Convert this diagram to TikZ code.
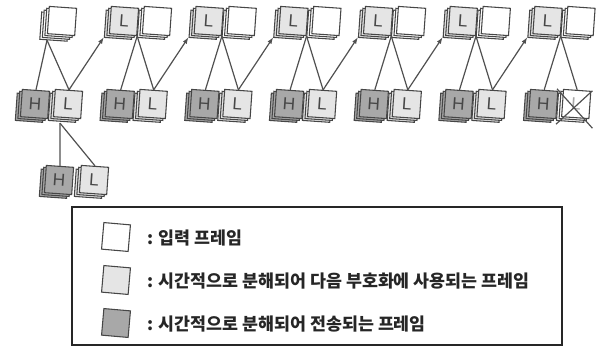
\documentclass[tikz,border=0pt]{standalone}
\usepackage{fontspec}
\setsansfont{Liberation Sans}
\newfontfamily\krfont{Noto Sans CJK KR}
\usetikzlibrary{shadows}
\usetikzlibrary{positioning}
\usetikzlibrary{calc}
\usetikzlibrary{arrows.meta}
\usepackage{xcolor}
\definecolor{frameline}{RGB}{70,70,70}
\definecolor{lowfill}{RGB}{229,229,229}
\definecolor{highfill}{RGB}{168,168,168}
\definecolor{wireline}{RGB}{80,80,80}

\tikzset{
  framebox/.style={draw=frameline, line width=0.8pt, minimum size=20.5pt, inner sep=0pt, rotate=-4,
    font=\sffamily\fontsize{13}{13}\selectfont, text=black!72},
  shadowed/.style={double copy shadow={shadow xshift=-1.9pt, shadow yshift=-1.4pt, draw=frameline, line width=0.8pt, fill=#1}},
  inframe/.style={framebox, fill=white, shadowed=white},
  lowframe/.style={framebox, fill=lowfill, shadowed=lowfill},
  highframe/.style={framebox, fill=highfill, shadowed=highfill},
  wire/.style={draw=wireline, line width=0.9pt},
  fwd/.style={wire, -{Latex[length=5pt,width=3.5pt]}},
  legsq/.style={draw=frameline, line width=0.8pt, minimum size=20pt, inner sep=0pt, rotate=-5},
  legtext/.style={anchor=west, inner sep=1pt, font=\krfont\bfseries\fontsize{13}{15}\selectfont, text=black!85},
}

\begin{document}
\begin{tikzpicture}[x=0.75pt,y=0.75pt,yscale=-1,xscale=1]
\useasboundingbox (0,0) rectangle (599,347);

% top row: input frames and low frames carried on
\node[copy shadow={shadow xshift=-5.7pt, shadow yshift=-4.2pt, draw=frameline, line width=0.8pt, fill=white}, inframe] (S0) at (62,21) {};
\node[lowframe] (TL1) at (124,21) {L};
\node[inframe] (TW1) at (157,21) {};
\node[lowframe] (TL2) at (208.7,21) {L};
\node[inframe] (TW2) at (241.7,21) {};
\node[lowframe] (TL3) at (293.4,21) {L};
\node[inframe] (TW3) at (326.4,21) {};
\node[lowframe] (TL4) at (378.1,21) {L};
\node[inframe] (TW4) at (411.1,21) {};
\node[lowframe] (TL5) at (462.8,21) {L};
\node[inframe] (TW5) at (495.8,21) {};
\node[lowframe] (TL6) at (547.5,21) {L};
\node[inframe] (TW6) at (580.5,21) {};

% second row: decomposed H and L frames
\node[highframe] (H0) at (35,104) {H};
\node[lowframe] (BL0) at (68,104) {L};
\node[highframe] (H1) at (119.7,104) {H};
\node[lowframe] (BL1) at (152.7,104) {L};
\node[highframe] (H2) at (204.4,104) {H};
\node[lowframe] (BL2) at (237.4,104) {L};
\node[highframe] (H3) at (289.1,104) {H};
\node[lowframe] (BL3) at (322.1,104) {L};
\node[highframe] (H4) at (373.8,104) {H};
\node[lowframe] (BL4) at (406.8,104) {L};
\node[highframe] (H5) at (458.5,104) {H};
\node[lowframe] (BL5) at (491.5,104) {L};
\node[highframe] (H6) at (543.2,104) {H};
\node[framebox, fill=white, shadowed=white, text=black!35] (BL6) at (576.2,104) {L};

% third row
\node[highframe] (HH0) at (59,180) {H};
\node[lowframe] (LL0) at (94,180) {L};

% connectors
\coordinate (J0) at ($(S0.south)+(-14,5)$);
\draw[wire] (J0) -- (H0.north);
\draw[wire] (J0) -- (BL0.north);
\draw[fwd] (BL0.north) -- ($(TL1.south west)+(-5,3)$);
\draw[wire] (TL1.south east) -- (H1.north);
\draw[wire] (TL1.south east) -- (BL1.north);
\draw[fwd] (BL1.north) -- ($(TL2.south west)+(-5,3)$);
\draw[wire] (TL2.south east) -- (H2.north);
\draw[wire] (TL2.south east) -- (BL2.north);
\draw[fwd] (BL2.north) -- ($(TL3.south west)+(-5,3)$);
\draw[wire] (TL3.south east) -- (H3.north);
\draw[wire] (TL3.south east) -- (BL3.north);
\draw[fwd] (BL3.north) -- ($(TL4.south west)+(-5,3)$);
\draw[wire] (TL4.south east) -- (H4.north);
\draw[wire] (TL4.south east) -- (BL4.north);
\draw[fwd] (BL4.north) -- ($(TL5.south west)+(-5,3)$);
\draw[wire] (TL5.south east) -- (H5.north);
\draw[wire] (TL5.south east) -- (BL5.north);
\draw[fwd] (BL5.north) -- ($(TL6.south west)+(-5,3)$);
\draw[wire] (TL6.south east) -- (H6.north);
\draw[wire] (TL6.south east) -- (BL6.north);
\coordinate (J00) at ($(BL0.south)+(-7,5)$);
\draw[wire] (J00) -- (HH0.north);
\draw[wire] (J00) -- (LL0.north);

% cross on the last L frame
\draw[wire] ($(BL6.north west)+(-6,0)$) -- ($(BL6.south east)+(3,9)$);
\draw[wire] ($(BL6.north east)+(1,0)$) -- ($(BL6.south west)+(-5,7)$);

% legend
\draw[line width=1.1pt, draw=black!85] (72,207) rectangle (562,345);
\node[legsq, fill=white] (K1) at (116,237) {};
\node[legsq, fill=lowfill] (K2) at (116,280) {};
\node[legsq, fill=highfill] (K3) at (116,323) {};
\node[legtext, right=12pt of K1] (T1) {: 입력 프레임};
\node[legtext, right=12pt of K2] (T2) {: 시간적으로 분해되어 다음 부호화에 사용되는 프레임};
\node[legtext, right=12pt of K3] (T3) {: 시간적으로 분해되어 전송되는 프레임};

\end{tikzpicture}
\end{document}
